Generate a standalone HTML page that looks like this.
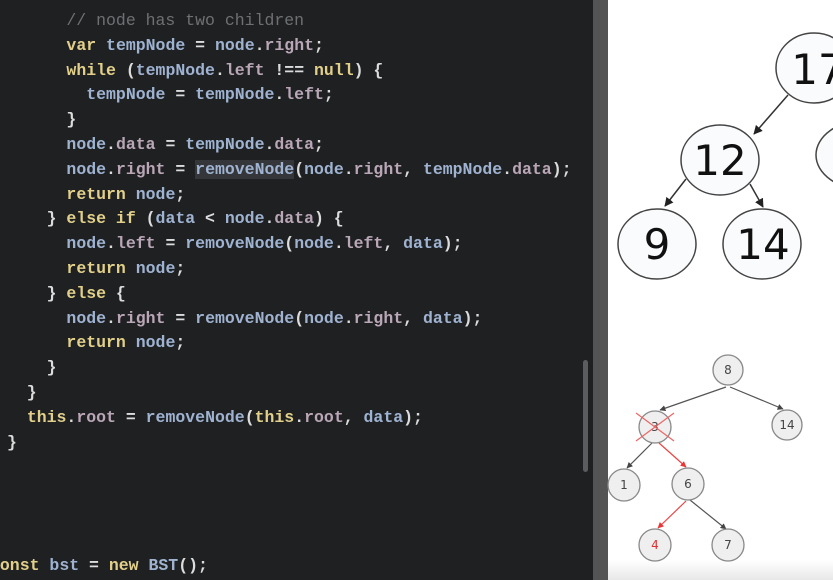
<html><head><style>
body{margin:0;width:833px;height:580px;overflow:hidden;background:#1e2022;position:relative;font-family:"Liberation Mono",monospace}
.code{position:absolute;left:7px;top:0;font-size:16.5px;color:#dcdcdc;white-space:pre;line-height:24.8px;font-weight:bold}
.k{color:#e2d08a}.v{color:#9fb3d1}.p{color:#b9a6b6}.c{color:#6f7073;font-weight:normal}
</style></head><body>
<div class="code" style="top:9px"><span class="c">      // node has two children</span>
      <span class="k">var</span> <span class="v">tempNode</span> = <span class="v">node</span>.<span class="p">right</span>;
      <span class="k">while</span> (<span class="v">tempNode</span>.<span class="p">left</span> !== <span class="k">null</span>) {
        <span class="v">tempNode</span> = <span class="v">tempNode</span>.<span class="p">left</span>;
      }
      <span class="v">node</span>.<span class="p">data</span> = <span class="v">tempNode</span>.<span class="p">data</span>;
      <span class="v">node</span>.<span class="p">right</span> = <span class="v" style="background:#34363a">removeNode</span>(<span class="v">node</span>.<span class="p">right</span>, <span class="v">tempNode</span>.<span class="p">data</span>);
      <span class="k">return</span> <span class="v">node</span>;
    } <span class="k">else if</span> (<span class="v">data</span> &lt; <span class="v">node</span>.<span class="p">data</span>) {
      <span class="v">node</span>.<span class="p">left</span> = <span class="v">removeNode</span>(<span class="v">node</span>.<span class="p">left</span>, <span class="v">data</span>);
      <span class="k">return</span> <span class="v">node</span>;
    } <span class="k">else</span> {
      <span class="v">node</span>.<span class="p">right</span> = <span class="v">removeNode</span>(<span class="v">node</span>.<span class="p">right</span>, <span class="v">data</span>);
      <span class="k">return</span> <span class="v">node</span>;
    }
  }
  <span class="k">this</span>.<span class="p">root</span> = <span class="v">removeNode</span>(<span class="k">this</span>.<span class="p">root</span>, <span class="v">data</span>);
}</div>
<div class="code" style="top:554px;left:-10px"><span class="k">const</span> <span class="v">bst</span> = <span class="k">new</span> <span class="v">BST</span>();</div>
<div style="position:absolute;left:583px;top:360px;width:5px;height:112px;background:#5a5c5f;border-radius:3px"></div>
<div style="position:absolute;left:593px;top:0;width:15px;height:580px;background:#545454"></div>
<div style="position:absolute;left:608px;top:0;width:225px;height:580px;background:linear-gradient(#fff 0,#fff 560px,#e8e8e8 580px)"></div>
<svg style="position:absolute;left:0;top:0" width="833" height="580" font-family="DejaVu Sans,sans-serif">
<defs><marker id="a" viewBox="0 0 10 10" refX="9" refY="5" markerWidth="6" markerHeight="6" orient="auto"><path d="M0,0L10,5L0,10z" fill="#222"/></marker>
<marker id="r" viewBox="0 0 10 10" refX="9" refY="5" markerWidth="5" markerHeight="5" orient="auto"><path d="M0,0L10,5L0,10z" fill="#e33"/></marker>
<marker id="g" viewBox="0 0 10 10" refX="9" refY="5" markerWidth="5" markerHeight="5" orient="auto"><path d="M0,0L10,5L0,10z" fill="#444"/></marker></defs>
<g stroke="#333" stroke-width="1.5" fill="none">
<line x1="788" y1="95" x2="754" y2="134" marker-end="url(#a)"/>
<line x1="686" y1="179" x2="665" y2="206" marker-end="url(#a)"/>
<line x1="750" y1="184" x2="763" y2="207" marker-end="url(#a)"/>
</g>
<g fill="#fafbfc" stroke="#444" stroke-width="1.5">
<ellipse cx="814" cy="68" rx="38" ry="35"/><ellipse cx="720" cy="160" rx="39" ry="35"/>
<ellipse cx="866" cy="155" rx="50" ry="35"/>
<ellipse cx="657" cy="244" rx="39" ry="35"/><ellipse cx="762" cy="244" rx="39" ry="35"/>
</g>
<g font-size="42" fill="#111" text-anchor="middle">
<text x="818" y="84">17</text><text x="720" y="175">12</text><text x="657" y="259">9</text><text x="763" y="259">14</text></g>
<g stroke="#555" stroke-width="1.2">
<line x1="726" y1="387" x2="660" y2="410" marker-end="url(#g)"/>
<line x1="730" y1="387" x2="783" y2="409" marker-end="url(#g)"/>
<line x1="652" y1="443" x2="627" y2="468" marker-end="url(#g)"/>
<line x1="690" y1="500" x2="726" y2="529" marker-end="url(#g)"/>
</g>
<g stroke="#e44" stroke-width="1.2">
<line x1="659" y1="443" x2="686" y2="467" marker-end="url(#r)"/>
<line x1="686" y1="501" x2="658" y2="528" marker-end="url(#r)"/>
</g>
<g fill="#efefef" stroke="#888" stroke-width="1.3">
<circle cx="728" cy="370" r="15"/><circle cx="655" cy="427" r="16"/><circle cx="787" cy="425" r="15"/>
<circle cx="624" cy="485" r="16"/><circle cx="688" cy="484" r="16"/><circle cx="655" cy="545" r="16"/><circle cx="728" cy="545" r="16"/>
</g>
<g font-size="12" fill="#444" text-anchor="middle">
<text x="728" y="374">8</text><text x="655" y="431">3</text><text x="787" y="429">14</text><text x="624" y="489">1</text>
<text x="688" y="488">6</text><text x="655" y="549" fill="#d33">4</text><text x="728" y="549">7</text></g>
<g stroke="#e66" stroke-width="1.2"><line x1="636" y1="413" x2="674" y2="441"/><line x1="674" y1="413" x2="636" y2="441"/></g>
</svg>
</body></html>
